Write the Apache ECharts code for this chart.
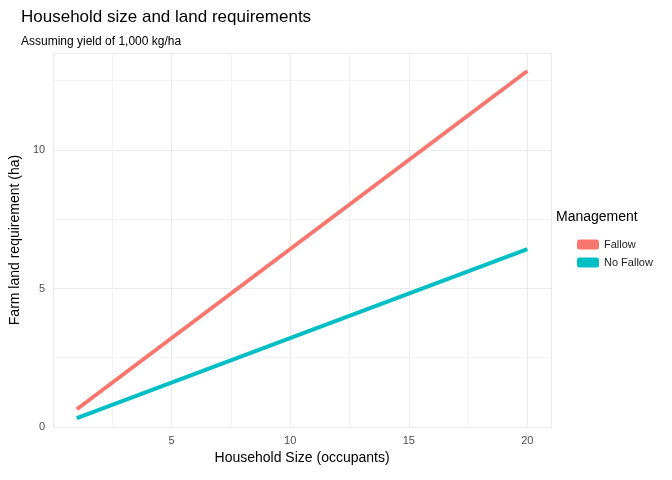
<!DOCTYPE html>
<html>
<head>
<meta charset="utf-8">
<script src="https://cdn.jsdelivr.net/npm/echarts@6/dist/echarts.min.js"></script>
<style>html,body{margin:0;background:#fff}#c{width:672px;height:480px}</style>
</head>
<body>
<div id="c"></div>
<script>
// household size (occupants) at the line ends
var occupants = [1, 20];
var fallow = [0.64, 12.85];
var noFallow = [0.32, 6.42];
var seriesNames = ['Fallow', 'No Fallow'];
var colors = ['#F8766D', '#00BFC4'];

function pairs(xs, ys) {
    var out = [];
    for (var i = 0; i < xs.length; i++) out.push([xs[i], ys[i]]);
    return out;
}

var myChart = echarts.init(document.getElementById('c'));
var font = 'Liberation Sans, Arial, sans-serif';
var grid = {color: '#ebebeb', width: 1};
var minor = {color: '#f3f3f3', width: 1};
var option = {
    animation: false,
    textStyle: {fontFamily: font},
    title: {
        text: 'Household size and land requirements',
        subtext: 'Assuming yield of 1,000 kg/ha',
        left: 16, top: 4, itemGap: 10,
        textStyle: {fontSize: 17, fontWeight: 'normal', color: '#000', fontFamily: font},
        subtextStyle: {fontSize: 12, color: '#000', fontFamily: font}
    },
    legend: {
        orient: 'vertical', left: 572, top: 234, itemGap: 7,
        itemWidth: 22, itemHeight: 10, icon: 'roundRect',
        data: seriesNames,
        textStyle: {fontSize: 11, color: '#222'}
    },
    graphic: [{
        type: 'text', left: 556, top: 210,
        style: {text: 'Management', fontSize: 14, fill: '#000', fontFamily: font}
    }],
    grid: {left: 49, right: 121, top: 53, bottom: 53},
    xAxis: {
        type: 'value', min: 0, max: 21, interval: 5,
        name: 'Household Size (occupants)', nameLocation: 'middle', nameGap: 24,
        nameTextStyle: {fontSize: 14, color: '#000'},
        axisLine: {show: false}, axisTick: {show: false},
        axisLabel: {color: '#4d4d4d', fontSize: 11, showMinLabel: false, showMaxLabel: false,
            formatter: function (v) { return v === 0 ? '' : v; }},
        splitLine: {lineStyle: grid},
        minorTick: {show: false, splitNumber: 2},
        minorSplitLine: {show: true, lineStyle: minor}
    },
    yAxis: {
        type: 'value', min: 0, max: 13.5, interval: 5,
        name: 'Farm land requirement (ha)', nameLocation: 'middle', nameGap: 30,
        nameTextStyle: {fontSize: 14, color: '#000'},
        axisLine: {show: false}, axisTick: {show: false},
        axisLabel: {color: '#4d4d4d', fontSize: 11, showMaxLabel: false},
        splitLine: {lineStyle: grid},
        minorTick: {show: false, splitNumber: 2},
        minorSplitLine: {show: true, lineStyle: minor}
    },
    series: [
        {name: seriesNames[0], type: 'line', data: pairs(occupants, fallow), showSymbol: false,
            color: colors[0], lineStyle: {width: 4, color: colors[0]}},
        {name: seriesNames[1], type: 'line', data: pairs(occupants, noFallow), showSymbol: false,
            color: colors[1], lineStyle: {width: 4, color: colors[1]}}
    ]
};
myChart.setOption(option);
</script>
</body>
</html>
